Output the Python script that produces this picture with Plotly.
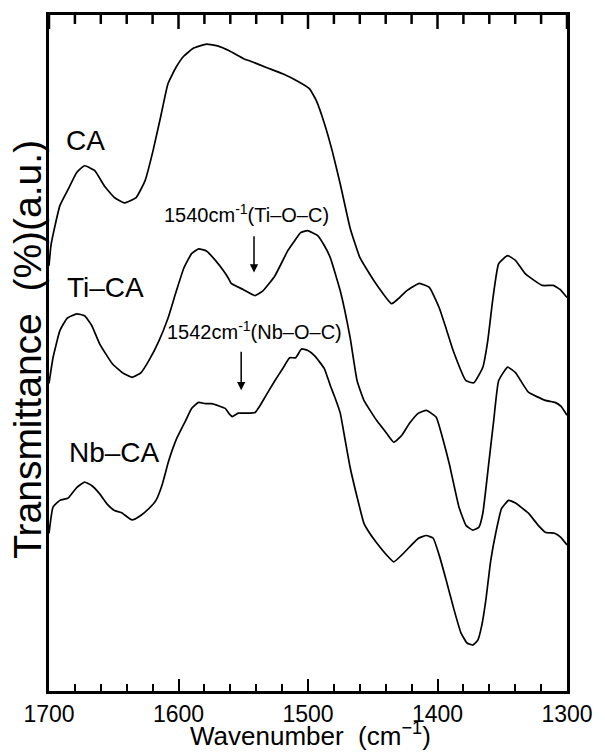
import plotly.graph_objects as go

# ---- data (transmittance in arbitrary units) ----
wn_ca = [1700, 1698.5, 1696.2, 1691.6, 1684.7, 1678.6, 1672.5, 1664.8, 1657.2, 1649.5,
         1641.9, 1632.7, 1625.8, 1619.7, 1613.6, 1608.2, 1602.1, 1596.0, 1588.3, 1578.4,
         1569.2, 1560.8, 1549.3, 1544.7, 1531.7, 1519.5, 1508.0, 1498.9, 1493.5, 1487.4,
         1481.3, 1475.1, 1467.5, 1459.9, 1449.1, 1435.4, 1429.3, 1423.9, 1414.0, 1406.3,
         1398.7, 1393.3, 1388.0, 1378.0, 1371.9, 1365.0, 1361.2, 1357.4, 1352.8, 1345.9,
         1339.8, 1332.1, 1319.1, 1310.7, 1305.4, 1300]
t_ca = [62.9, 65.9, 68.1, 71.8, 74.4, 76.7, 77.7, 77.0, 74.7, 73.0,
        72.2, 73.0, 75.5, 79.9, 85.1, 89.8, 92.2, 93.9, 95.1, 95.7,
        95.4, 94.7, 93.5, 93.2, 92.2, 91.3, 90.2, 89.1, 87.3, 84.0,
        79.9, 75.0, 68.5, 64.1, 60.7, 57.3, 58.2, 59.2, 60.3, 59.7,
        56.7, 53.6, 50.4, 45.9, 45.6, 47.9, 51.8, 57.8, 63.2, 64.4,
        63.7, 61.7, 60.0, 60.0, 59.4, 58.2]

wn_ti = [1700, 1696.9, 1691.6, 1686.2, 1678.6, 1672.5, 1667.1, 1661.0, 1651.1, 1643.4,
         1635.8, 1628.9, 1622.8, 1615.1, 1608.2, 1602.1, 1596.0, 1589.9, 1584.5, 1578.4,
         1571.5, 1565.4, 1561.6, 1559.3, 1550.1, 1540.9, 1534.8, 1525.6, 1515.7, 1510.3,
         1505.7, 1500.4, 1492.7, 1487.4, 1482.8, 1475.1, 1467.5, 1462.1, 1456.8, 1446.9,
         1439.2, 1433.8, 1427.7, 1421.6, 1414.7, 1408.6, 1401.0, 1395.6, 1391.0, 1383.4,
         1378.0, 1372.7, 1368.1, 1365.0, 1360.4, 1356.6, 1352.8, 1345.9, 1339.8, 1329.8,
         1316.8, 1309.2, 1304.6, 1300]
t_ti = [45.5, 49.3, 53.3, 55.1, 55.8, 55.5, 54.1, 51.4, 48.4, 47.1,
        46.4, 47.1, 48.9, 51.8, 55.1, 58.9, 62.5, 64.7, 65.4, 65.1,
        63.7, 62.2, 61.1, 60.3, 59.4, 58.5, 59.2, 61.4, 65.1, 66.6,
        67.8, 68.1, 67.4, 65.9, 64.1, 59.2, 52.3, 45.9, 43.0, 40.0,
        38.1, 36.8, 37.8, 39.6, 41.1, 41.5, 40.5, 37.1, 33.7, 27.2,
        24.5, 23.8, 24.2, 26.3, 33.7, 40.0, 45.9, 47.9, 47.1, 44.2,
        43.0, 42.7, 42.1, 40.8]

wn_nb = [1700, 1696.9, 1691.6, 1685.5, 1678.6, 1672.5, 1667.1, 1661.0, 1654.9, 1649.5,
         1644.2, 1635.8, 1628.9, 1622.8, 1617.4, 1612.8, 1607.5, 1601.3, 1594.5, 1589.9,
         1584.5, 1579.2, 1574.6, 1569.2, 1563.9, 1560.8, 1558.5, 1553.9, 1547.8, 1540.9,
         1537.1, 1532.5, 1525.6, 1519.5, 1514.2, 1509.6, 1505.0, 1500.4, 1495.0,
         1487.4, 1482.8, 1479.0, 1475.1, 1471.3, 1467.5, 1462.1, 1456.8, 1452.2, 1446.9,
         1439.2, 1433.8, 1427.7, 1421.6, 1414.7, 1408.6, 1403.3, 1398.7, 1393.3, 1387.2,
         1381.9, 1377.2, 1372.7, 1368.9, 1365.8, 1362.7, 1358.9, 1355.1, 1350.5, 1345.1,
         1339.8, 1329.8, 1322.2, 1316.8, 1309.2, 1304.6, 1300]
t_nb = [23.3, 27.2, 28.2, 28.5, 30.1, 30.9, 30.4, 29.2, 27.6, 26.7,
        26.4, 25.3, 26.0, 27.0, 28.2, 30.4, 34.1, 37.4, 40.0, 41.8,
        42.7, 42.5, 42.5, 42.2, 41.8, 41.0, 40.6, 41.1, 41.1, 41.2,
        42.2, 43.7, 45.9, 47.7, 49.3, 49.3, 50.6, 50.4, 49.6,
        47.7, 45.2, 43.3, 41.1, 37.1, 33.1, 28.7, 24.8, 23.3, 21.9,
        20.1, 19.1, 20.1, 21.3, 22.6, 23.0, 22.6, 20.1, 16.4, 12.0,
        8.6, 7.1, 6.8, 7.5, 9.7, 13.4, 19.3, 23.3, 27.0, 28.2,
        27.8, 26.3, 24.5, 23.5, 23.3, 22.7, 21.6]

series_names = ["CA", "Ti–CA", "Nb–CA"]
x_tickvals = [1700, 1600, 1500, 1400, 1300]
x_ticktext = ["1700", "1600", "1500", "1400", "1300"]
x_minor_step = 20
y_range = [0, 100]

FONT = "Liberation Sans, Arial, Helvetica, sans-serif"
MARGIN = dict(l=49, r=33, t=13, b=62)
PLOT_H = 753 - MARGIN["t"] - MARGIN["b"]
MAJOR_LEN, MINOR_LEN = 14, 9

fig = go.Figure()
for wn, t, name in [(wn_ca, t_ca, series_names[0]),
                    (wn_ti, t_ti, series_names[1]),
                    (wn_nb, t_nb, series_names[2])]:
    fig.add_trace(go.Scatter(x=wn, y=t, mode="lines", name=name,
                             line=dict(color="black", width=1.7, shape="spline", smoothing=0.4),
                             showlegend=False))

# tick marks along the top frame, mirroring the bottom-axis ticks (built from the tick arrays)
per_px = (y_range[1] - y_range[0]) / PLOT_H
tx, ty = [], []
for v in range(x_tickvals[0], x_tickvals[-1] - 1, -x_minor_step):
    ln = MAJOR_LEN if v in x_tickvals else MINOR_LEN
    tx += [v, v, None]
    ty += [y_range[1], y_range[1] - ln * per_px, None]
fig.add_trace(go.Scatter(x=tx, y=ty, mode="lines", line=dict(color="black", width=2.5),
                         showlegend=False, hoverinfo="skip", cliponaxis=False))

annotations = [
    # curve labels
    dict(x=1671.7, y=81.4, text="CA", showarrow=False, font=dict(size=28)),
    dict(x=1656.4, y=59.7, text="Ti–CA", showarrow=False, font=dict(size=28)),
    dict(x=1649.5, y=35.3, text="Nb–CA", showarrow=False, font=dict(size=28)),
    # band labels
    dict(x=1547.4, y=70.6, text="1540cm<sup>-1</sup>(Ti–O–C)", showarrow=False, font=dict(size=20)),
    dict(x=1541.7, y=53.3, text="1542cm<sup>-1</sup>(Nb–O–C)", showarrow=False, font=dict(size=20)),
    # arrows
    dict(x=1541.7, y=61.9, ax=1541.7, ay=67.5, axref="x", ayref="y", text="",
         showarrow=True, arrowhead=2, arrowsize=1.1, arrowwidth=1.5, arrowcolor="black"),
    dict(x=1551.6, y=44.5, ax=1551.6, ay=50.4, axref="x", ayref="y", text="",
         showarrow=True, arrowhead=2, arrowsize=1.1, arrowwidth=1.5, arrowcolor="black"),
    # axis titles
    dict(xref="paper", yref="paper", x=-0.042, y=0.505, text="Transmittance  (%)(a.u.)",
         textangle=-90, showarrow=False, font=dict(size=39), xanchor="center", yanchor="middle"),
    dict(xref="paper", yref="paper", x=0.505, y=-0.0645, text="Wavenumber  (cm<sup>−1</sup>)",
         showarrow=False, font=dict(size=26), xanchor="center", yanchor="middle"),
]

fig.update_layout(
    width=605, height=753,
    margin=MARGIN,
    paper_bgcolor="white", plot_bgcolor="white",
    font=dict(family=FONT, color="black"),
    annotations=annotations,
    xaxis=dict(range=[1700, 1300], tickvals=x_tickvals, ticktext=x_ticktext,
               ticks="inside", ticklen=MAJOR_LEN - 2, tickwidth=2, tickcolor="black",
               showgrid=False, zeroline=False,
               minor=dict(dtick=x_minor_step, tick0=1700, ticks="inside", ticklen=MINOR_LEN - 2,
                          tickwidth=2, tickcolor="black", showgrid=False),
               showline=True, linewidth=3, linecolor="black", mirror=True,
               tickfont=dict(size=23)),
    yaxis=dict(range=y_range, showticklabels=False, ticks="",
               showline=True, linewidth=3, linecolor="black", mirror=True,
               showgrid=False, zeroline=False),
)

fig.write_html("out.html")
